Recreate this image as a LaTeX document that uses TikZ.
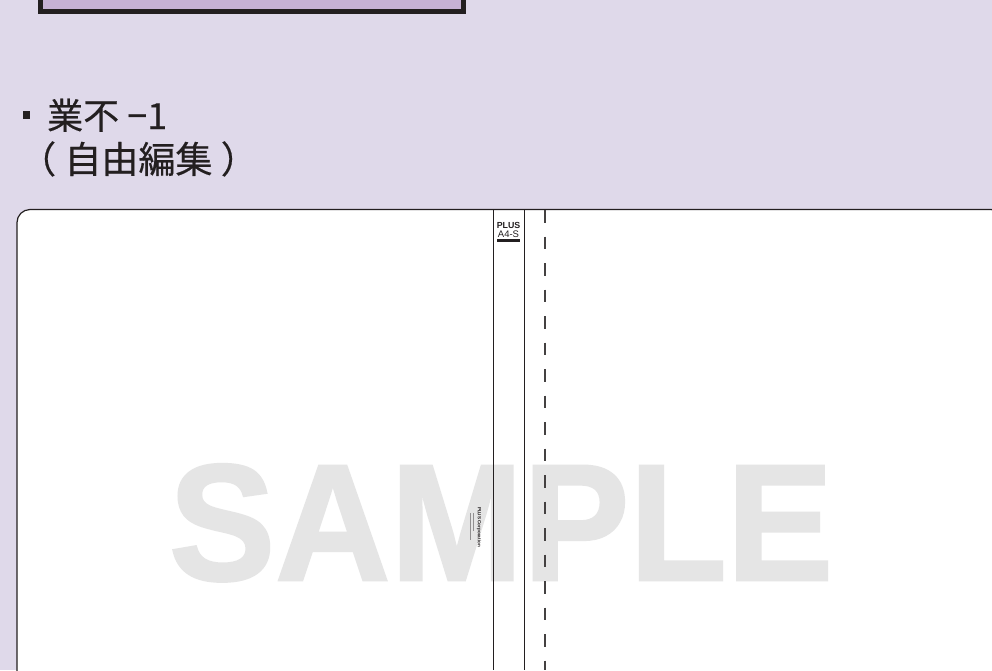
\documentclass[tikz,border=0pt]{standalone}
\usepackage{fontspec}
\setmainfont{Liberation Sans}
\newfontfamily\jpfont[FakeBold=0.4]{Noto Sans CJK JP}
\newfontfamily\samplefont[BoldFeatures={FakeBold=1.5}]{Liberation Sans}
\definecolor{bglilac}{HTML}{DFD9EA}
\definecolor{barlilac}{HTML}{C6B1D4}
\definecolor{inkdark}{HTML}{231F20}
\definecolor{samplegray}{HTML}{E5E5E5}
\tikzset{
	title_text/.style={anchor=base west,inner sep=0pt,text=inkdark,font=\jpfont\fontsize{37}{37}\selectfont},
	spine_line/.style={draw=inkdark,line width=1.4pt}
}
\begin{document}
\begin{tikzpicture}[x=1pt,y=-1pt]
	\useasboundingbox (0,0) rectangle (992,670);
	\fill[bglilac] (0,0) rectangle (992,670);
	
	\draw[fill=barlilac,draw=inkdark,line width=5pt] (40.5,-20) rectangle (463.5,11.5);
	
	\fill[inkdark] (23,111) rectangle (30,119);
	\node[title_text,font=\jpfont\fontsize{36}{36}\selectfont] (title1) at (47,129) {業不 −1};
	\node[title_text] (title2) at (19,173) {（ 自由編集 ）};
	
	\draw[fill=white,draw=inkdark,line width=1.2pt,rounded corners=13pt] (17,700) -- (17,209.5) -- (1004,209.5) -- (1004,700);
	
	\node[anchor=base,inner sep=0pt,xscale=.96,text=samplegray,font=\samplefont\bfseries\fontsize{166}{166}\selectfont] (sample) at (501,580) {SAMPLE};
	
	\coordinate (spine1a) at (493.5,209.5);
	\coordinate (spine1b) at (493.5,670);
	\coordinate (spine2a) at (524.5,209.5);
	\coordinate (spine2b) at (524.5,670);
	\coordinate (folda) at (545,210);
	\coordinate (foldb) at (545,670);
	\draw[spine_line] (spine1a) -- (spine1b);
	\draw[spine_line] (spine2a) -- (spine2b);
	\draw[draw=inkdark!85,line width=1.6pt,dash pattern=on 12.5pt off 14pt] (folda) -- (foldb);
	
	\node[inner sep=0pt,text=inkdark,font=\bfseries\fontsize{8.8}{10}\selectfont] (plus) at (508.5,225) {PLUS};
	\node[inner sep=0pt,text=inkdark,font=\fontsize{9.5}{10}\selectfont] (size) at (508.5,234) {A4-S};
	\draw[inkdark,line width=2.4pt] (497,240.5) -- (520,240.5);
	
	\node[rotate=-90,inner sep=0pt,text=inkdark,font=\bfseries\fontsize{4.6}{5}\selectfont] (corp) at (479,527) {PLUS Corporation};
	% address lines too small to read
	\draw[inkdark!50,line width=1pt] (473.5,513) -- (473.5,531);
	\draw[inkdark!50,line width=1pt] (470.5,513) -- (470.5,540);
\end{tikzpicture}
\end{document}
